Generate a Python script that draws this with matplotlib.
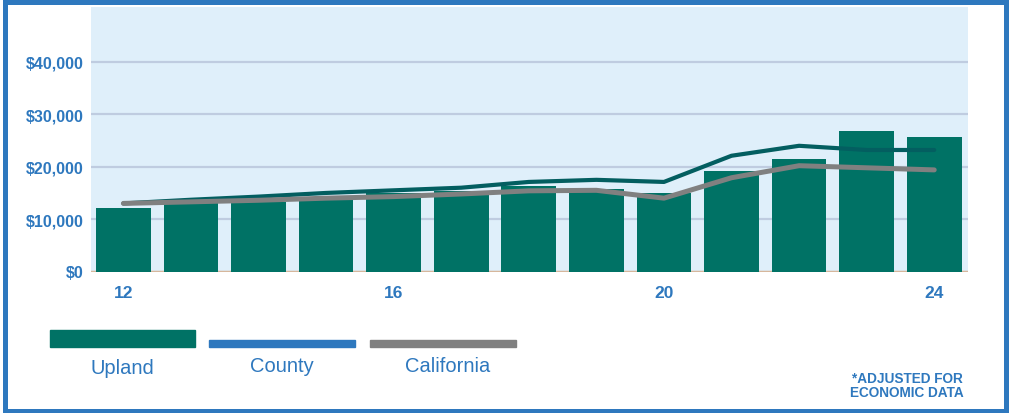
import matplotlib
matplotlib.use("Agg")
import matplotlib.pyplot as plt
from matplotlib.patches import Rectangle

plt.rcParams['font.family'] = ['Liberation Sans', 'DejaVu Sans']

years = [12, 13, 14, 15, 16, 17, 18, 19, 20, 21, 22, 23, 24]
upland = [12200, 13000, 13200, 14300, 14900, 15300, 16300, 15700, 14900, 19200, 21500, 26800, 25600]
county = [13000, 13700, 14300, 15000, 15500, 16000, 17100, 17500, 17100, 22100, 24000, 23200, 23200]
california = [13000, 13300, 13600, 14000, 14300, 14800, 15400, 15500, 14000, 17900, 20200, 19800, 19400]
xtick_years = [12, 16, 20, 24]
ytick_vals = [0, 10000, 20000, 30000, 40000]
legend_names = ["Upland", "County", "California"]

BLUE = "#2E78BE"
TEAL = "#007265"
DARK_TEAL = "#035E60"
GRAY = "#808080"

W, H = 1012, 414
fig = plt.figure(figsize=(W / 100, H / 100), dpi=100)

ax = fig.add_axes([91 / W, (H - 272.5) / H, (968 - 91) / W, (272.5 - 8) / H])
ax.set_facecolor("#DFEFFA")
ax.bar(years, upland, width=0.81, color=TEAL, zorder=2)
ax.plot(years, county, color=DARK_TEAL, lw=3.0, zorder=3, solid_capstyle="round")
ax.plot(years, california, color=GRAY, lw=3.6, zorder=4, solid_capstyle="round")

ax.set_xlim(11.52, 24.5)
ax.set_ylim(0, 50500)
ax.set_yticks(ytick_vals)
ax.set_yticklabels(["${:,}".format(v) for v in ytick_vals])
ax.set_xticks(xtick_years)
ax.set_xticklabels([str(v) for v in xtick_years])
for v in ytick_vals[1:]:
    ax.axhline(v, color="#BFCCE0", lw=1.6, zorder=1)
ax.axhline(0, color="#D6B79C", lw=2.5, zorder=1.5)
ax.tick_params(axis="both", length=0, colors=BLUE)
ax.tick_params(axis="y", pad=5)
ax.tick_params(axis="x", pad=10)
for lbl in ax.get_yticklabels():
    lbl.set_fontweight("bold"); lbl.set_fontsize(11.5); lbl.set_color(BLUE)
for lbl in ax.get_xticklabels():
    lbl.set_fontweight("bold"); lbl.set_fontsize(12.5); lbl.set_color(BLUE)
for s in ax.spines.values():
    s.set_visible(False)

# outer frame
fig.patches.append(Rectangle((5.5 / W, 2.5 / H), (1006.5 - 5.5) / W, (411.5 - 2.5) / H,
                             transform=fig.transFigure, fill=False,
                             edgecolor=BLUE, lw=3.6, zorder=0))

# legend
leg = [(50, 195, 331, 348, TEAL), (209, 355, 341, 348, BLUE), (370, 516, 341, 348, GRAY)]
centers = [122, 282, 448]
label_y = [369, 367, 367]
for (x0, x1, y0, y1, c), name, cx, ly in zip(leg, legend_names, centers, label_y):
    fig.patches.append(Rectangle((x0 / W, (H - y1) / H), (x1 - x0) / W, (y1 - y0) / H,
                                 transform=fig.transFigure, color=c))
    fig.text(cx / W, (H - ly) / H, name, color=BLUE, fontsize=14.5,
             ha="center", va="center")

fig.text(907 / W, (H - 386.5) / H, "*ADJUSTED FOR\nECONOMIC DATA", color=BLUE,
         fontsize=9.8, fontweight="bold", ha="center", va="center", linespacing=1.0)

fig.savefig("out.png", dpi=100)
